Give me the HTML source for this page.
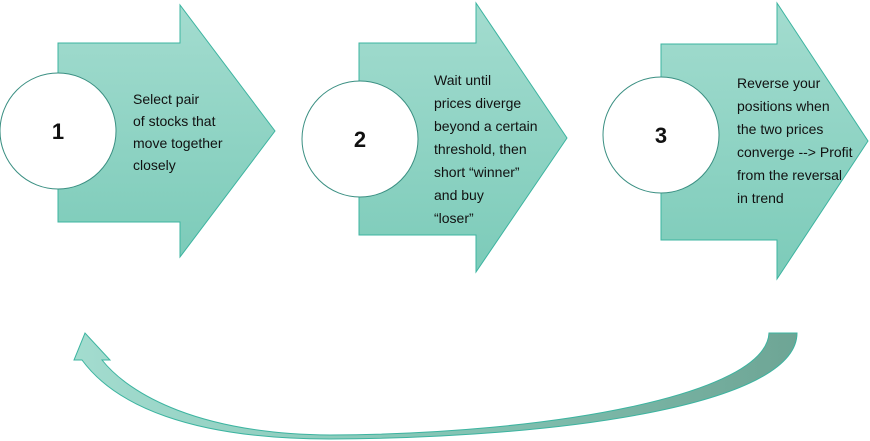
<!DOCTYPE html>
<html><head><meta charset="utf-8"><style>
body{margin:0;background:#fff;}
svg{display:block}
text{font-family:"Liberation Sans",sans-serif;font-size:14px;fill:#111;}
.n{font-size:22px;font-weight:bold;}
</style></head><body>
<svg width="870" height="441" viewBox="0 0 870 441" xmlns="http://www.w3.org/2000/svg">
<defs>
<linearGradient id="g" x1="0" y1="0" x2="0" y2="1">
<stop offset="0" stop-color="#a3dccf"/><stop offset="1" stop-color="#7ccbb9"/></linearGradient>
<linearGradient id="h" x1="0" y1="0" x2="1" y2="0">
<stop offset="0" stop-color="#a3dccf"/><stop offset="0.5" stop-color="#85c5b5"/><stop offset="1" stop-color="#6ea595"/></linearGradient>
</defs>
<g stroke="#3cb4a0" stroke-width="1">
<path d="M58,43 H180 V5 L275,131 L180,257 V222 H58 Z" fill="url(#g)"/>
<path d="M359,43 H476 V3 L567,138 L476,272 V235 H359 Z" fill="url(#g)"/>
<path d="M661,44 H777 V3 L868,141 L777,279 V240 H661 Z" fill="url(#g)"/>
<path d="M797,333 C797,405 560,438 330,439 C190,439 115,405 82,360 L74,360 L85,333 L110,360 L102,360 C130,395 200,434 330,435 C550,434 766,395 769,333 Z" fill="url(#h)"/>
</g>
<g fill="#fff" stroke="#3a8f82" stroke-width="1">
<circle cx="58" cy="131" r="58"/>
<circle cx="360" cy="139" r="58"/>
<circle cx="661" cy="135" r="58"/>
</g>
<text class="n" x="58" y="139" text-anchor="middle">1</text>
<text class="n" x="360" y="147" text-anchor="middle">2</text>
<text class="n" x="661" y="143" text-anchor="middle">3</text>
<text x="133" y="104">Select pair</text>
<text x="133" y="126">of stocks that</text>
<text x="133" y="148">move together</text>
<text x="133" y="170">closely</text>
<text x="434" y="85">Wait until</text>
<text x="434" y="108">prices diverge</text>
<text x="434" y="131">beyond a certain</text>
<text x="434" y="154">threshold, then</text>
<text x="434" y="177">short “winner”</text>
<text x="434" y="200">and buy</text>
<text x="434" y="223">“loser”</text>
<text x="737" y="88">Reverse your</text>
<text x="737" y="111">positions when</text>
<text x="737" y="134">the two prices</text>
<text x="737" y="157">converge --&gt; Profit</text>
<text x="737" y="180">from the reversal</text>
<text x="737" y="203">in trend</text>
</svg>
</body></html>
